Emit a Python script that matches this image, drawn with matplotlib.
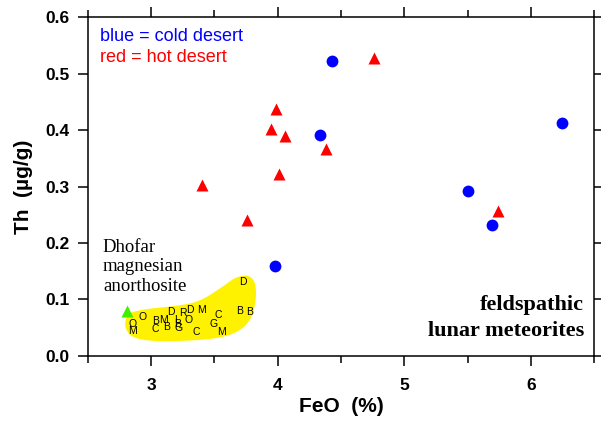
import numpy as np
import matplotlib
matplotlib.use("Agg")
import matplotlib.pyplot as plt
from matplotlib.patches import Polygon

# cold desert (blue circles)
cold_feo = [4.43, 4.33, 6.25, 5.50, 5.695, 3.98]
cold_th = [0.522, 0.391, 0.412, 0.2915, 0.232, 0.159]

# hot desert (red triangles)
hot_feo = [4.757, 3.986, 3.943, 4.06, 4.38, 4.01, 5.74, 3.40, 3.76]
hot_th = [0.527, 0.438, 0.401, 0.39, 0.367, 0.323, 0.257, 0.303, 0.24]

# Dhofar magnesian anorthosite
dho_feo = [2.81]
dho_th = [0.08]

# lettered points in the yellow field
let_txt = ["D", "O", "M", "O", "B", "M", "C", "B", "L", "B", "G", "D", "R",
           "O", "D", "M", "C", "C", "G", "M", "B", "B"]
let_feo = [3.728, 2.849, 2.849, 2.93, 3.033, 3.098, 3.028, 3.125, 3.20, 3.21,
           3.216, 3.159, 3.25, 3.298, 3.308, 3.40, 3.356, 3.526, 3.49, 3.553,
           3.697, 3.776]
let_th = [0.1315, 0.056, 0.045, 0.0696, 0.0625, 0.0637, 0.0478, 0.052, 0.064,
          0.056, 0.049, 0.077, 0.0755, 0.064, 0.0814, 0.0814, 0.043, 0.0726,
          0.056, 0.0418, 0.0796, 0.0773]

# outline of the yellow field
blob_x = [2.791, 2.817, 2.935, 3.198, 3.382, 3.565, 3.671, 3.776, 3.828, 3.828,
          3.776, 3.644, 3.435, 3.041, 2.857, 2.799]
blob_y = [0.0607, 0.0756, 0.0827, 0.0885, 0.0961, 0.1227, 0.1404, 0.1434,
          0.1287, 0.0933, 0.0579, 0.0372, 0.0283, 0.0253, 0.0313, 0.046]


def smooth(pts, n=3):
    # chaikin corner cutting to round the outline
    for _ in range(n):
        a = pts
        b = np.roll(pts, -1, axis=0)
        pts = np.empty((2 * len(a), 2))
        pts[0::2] = 0.75 * a + 0.25 * b
        pts[1::2] = 0.25 * a + 0.75 * b
    return pts


plt.rcParams['font.family'] = ['Liberation Sans', 'DejaVu Sans']
fig = plt.figure(figsize=(6.01, 4.21), dpi=100)
ax = fig.add_axes([0.1464, 0.1544, 0.842, 0.8052])

pts = smooth(np.column_stack([blob_x, blob_y]))
ax.add_patch(Polygon(pts, closed=True, facecolor='#fff200', edgecolor='none', zorder=1))

for t, x, y in zip(let_txt, let_feo, let_th):
    ax.text(x, y, t, fontsize=7.5, ha='center', va='center', zorder=3)

ax.plot(cold_feo, cold_th, 'o', color='#0000ff', markersize=8.5, mec='none', zorder=4)
ax.plot(hot_feo, hot_th, '^', color='#ff0000', markersize=9, mec='none', zorder=4)
ax.plot(dho_feo, dho_th, '^', color='#44ee00', markersize=9, mec='none', zorder=4)

ax.text(0.024, 0.967, "blue = cold desert", color='#0000ff', fontsize=13,
        transform=ax.transAxes, va='top')
ax.text(0.024, 0.907, "red = hot desert", color='#ff0000', fontsize=13,
        transform=ax.transAxes, va='top')
ax.text(2.618, 0.158, "Dhofar\nmagnesian\nanorthosite", family='Liberation Serif',
        fontsize=13.5, va='center', ha='left', linespacing=1.2)
ax.text(6.42, 0.068, "feldspathic\nlunar meteorites", family='Liberation Serif',
        fontsize=16, fontweight='bold', ha='right', va='center', linespacing=1.4)

ax.set_xlim(2.5, 6.5)
ax.set_ylim(0, 0.6)
ax.set_xticks([3, 4, 5, 6])
ax.set_xticks([2.5, 3.5, 4.5, 5.5, 6.5], minor=True)
ax.set_yticks([0, 0.1, 0.2, 0.3, 0.4, 0.5, 0.6])
ax.set_yticklabels(["0.0", "0.1", "0.2", "0.3", "0.4", "0.5", "0.6"])
ax.tick_params(which='both', direction='out', top=True, right=True, width=1.1)
ax.tick_params(which='major', length=7, labelsize=12.5)
ax.tick_params(axis='y', pad=6)
ax.tick_params(axis='x', pad=9)
ax.tick_params(which='minor', length=5)
for lbl in ax.get_xticklabels() + ax.get_yticklabels():
    lbl.set_fontweight('bold')
for s in ax.spines.values():
    s.set_linewidth(1.1)

ax.set_xlabel("FeO  (%)", fontsize=15, fontweight='bold', labelpad=3)
ax.set_ylabel("Th  (µg/g)", fontsize=15, fontweight='bold', labelpad=9)

fig.savefig("out.png", dpi=100)
